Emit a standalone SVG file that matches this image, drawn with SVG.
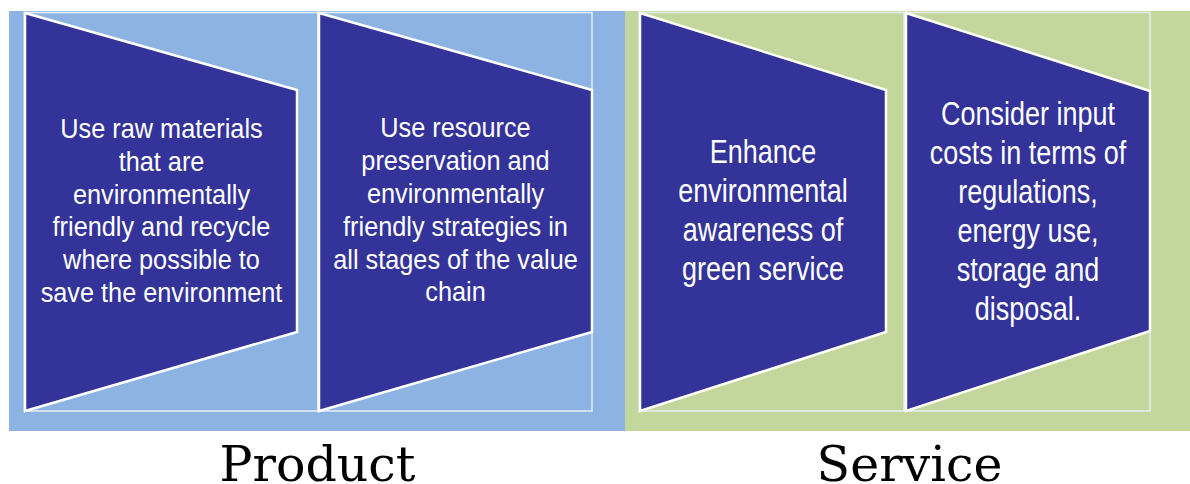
<svg xmlns="http://www.w3.org/2000/svg" width="1190" height="484" viewBox="0 0 1190 484">
<style>
.slot{fill:none;stroke:#e8eef6;stroke-width:1.5}
.trap{fill:#333399;stroke:#ffffff;stroke-width:2.5;stroke-linejoin:miter}
.t{font-family:"Liberation Sans",Arial,sans-serif;fill:#ffffff;text-anchor:middle}
.s{font-size:27.5px}
.b{font-size:32.5px}
.lab{font-family:"DejaVu Serif","Liberation Serif",serif;font-size:49px;fill:#000000;text-anchor:middle}
</style>
<rect x="9" y="11" width="616" height="420" fill="#8DB3E2"/>
<rect x="625" y="11" width="565" height="420" fill="#C3D69B"/>
<g id="node1">
<rect class="slot" x="24.5" y="12.5" width="293.5" height="398.5"/>
<polygon class="trap" points="25,13 297,90 297,332 25,411"/>
<g class="t s" transform="translate(161.5,0) scale(0.92,1)">
<text x="0" y="138.3">Use raw materials</text>
<text x="0" y="171">that are</text>
<text x="0" y="203.7">environmentally</text>
<text x="0" y="236.4">friendly and recycle</text>
<text x="0" y="269">where possible to</text>
<text x="0" y="301.7">save the environment</text>
</g>
</g>
<g id="node2">
<rect class="slot" x="318" y="12.5" width="274" height="398.5"/>
<polygon class="trap" points="319,13 592,90 592,332 319,411"/>
<g class="t s" transform="translate(455.5,0) scale(0.92,1)">
<text x="0" y="137.5">Use resource</text>
<text x="0" y="170.3">preservation and</text>
<text x="0" y="203.1">environmentally</text>
<text x="0" y="235.9">friendly strategies in</text>
<text x="0" y="268.7">all stages of the value</text>
<text x="0" y="301.5">chain</text>
</g>
</g>
<g id="node3">
<rect class="slot" x="639.5" y="12.5" width="264.5" height="398.5"/>
<polygon class="trap" points="640,13 886,90 886,332 640,411"/>
<g class="t b" transform="translate(763,0) scale(0.83,1)">
<text x="0" y="163.3">Enhance</text>
<text x="0" y="202.2">environmental</text>
<text x="0" y="241.1">awareness of</text>
<text x="0" y="280">green service</text>
</g>
</g>
<g id="node4">
<rect class="slot" x="905" y="12.5" width="245" height="398.5"/>
<polygon class="trap" points="906,13 1150,91 1150,331 906,411"/>
<g class="t b" transform="translate(1028,0) scale(0.83,1)">
<text x="0" y="125">Consider input</text>
<text x="0" y="164">costs in terms of</text>
<text x="0" y="203">regulations,</text>
<text x="0" y="242">energy use,</text>
<text x="0" y="281">storage and</text>
<text x="0" y="320">disposal.</text>
</g>
</g>
<g id="connectors"/>
<text id="label-product" class="lab" x="317.5" y="481">Product</text>
<text id="label-service" class="lab" x="909.5" y="481">Service</text>
</svg>
